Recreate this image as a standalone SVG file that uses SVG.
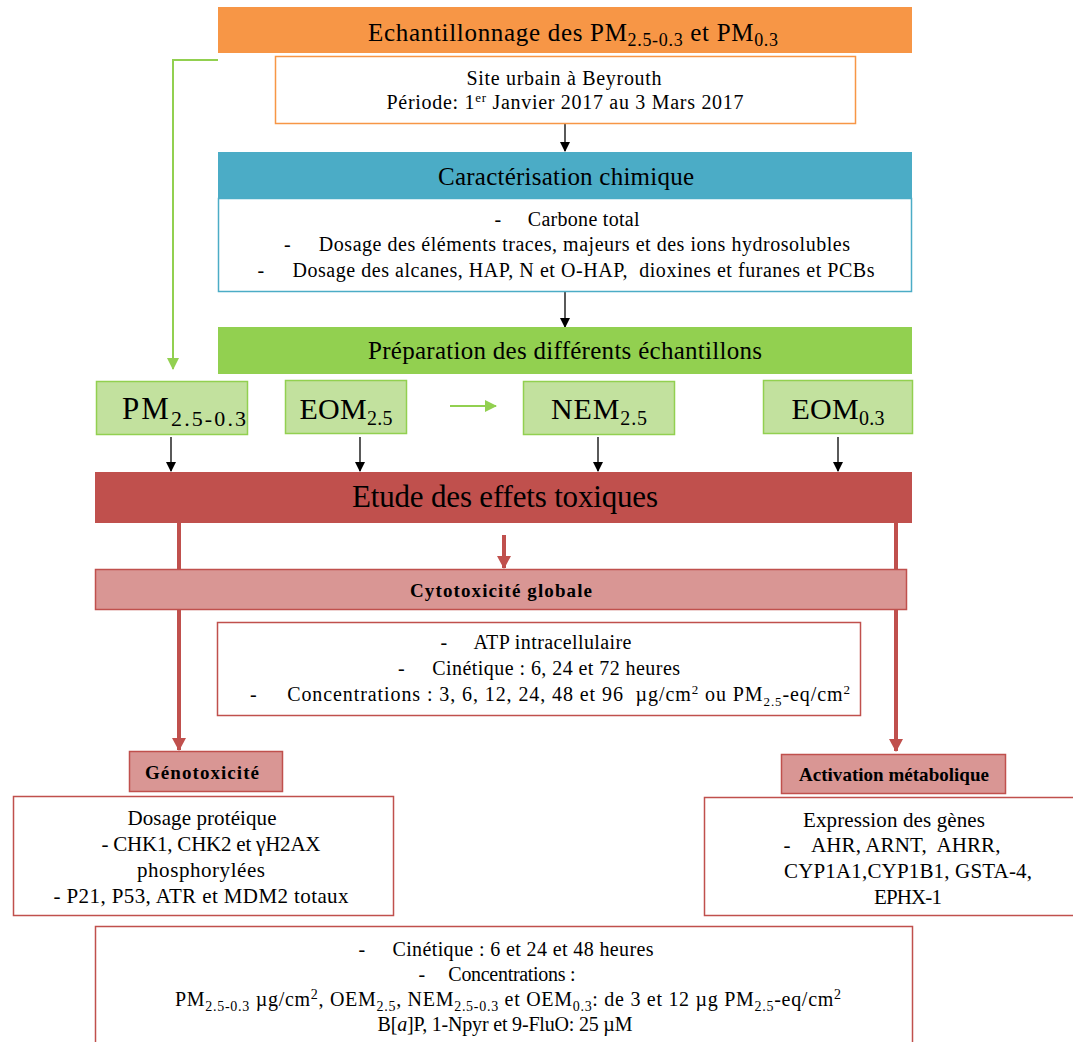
<svg xmlns="http://www.w3.org/2000/svg" width="1073" height="1042" viewBox="0 0 1073 1042">
<style>
text{font-family:"Liberation Serif","Times New Roman",serif;fill:#000;text-anchor:middle}
.h{font-size:25px}
.b{font-size:20px}
.m{font-size:21px}
.big{font-size:30px}
.bold{font-weight:bold;font-size:19px}
.lg{fill:#C2E19E;stroke:#92D050;stroke-width:1.5}
.bk{stroke:#000;stroke-width:1.3;fill:none}
.gr{stroke:#92D050;stroke-width:2;fill:none}
.rd{stroke:#C0504D;stroke-width:4;fill:none}
</style>
<defs>
<marker id="ab" markerWidth="10" markerHeight="10" refX="9" refY="5" orient="auto" markerUnits="userSpaceOnUse"><path d="M0,0 L10,5 L0,10 z" fill="#000"/></marker>
<marker id="ag" markerWidth="12" markerHeight="12" refX="11" refY="6" orient="auto" markerUnits="userSpaceOnUse"><path d="M0,0 L12,6 L0,12 z" fill="#92D050"/></marker>
<marker id="ar" markerWidth="13" markerHeight="14" refX="12" refY="7" orient="auto" markerUnits="userSpaceOnUse"><path d="M0,0 L13,7 L0,14 z" fill="#C0504D"/></marker>
</defs>

<g id="connectors">
<path class="gr" d="M218,60 H173 V369" marker-end="url(#ag)"/>
<path class="bk" d="M565,118 V151" marker-end="url(#ab)"/>
<path class="bk" d="M565,292 V327" marker-end="url(#ab)"/>
<path class="gr" d="M450,406 H496" marker-end="url(#ag)"/>
<path class="bk" d="M171,437 V471" marker-end="url(#ab)"/>
<path class="bk" d="M360,437 V471" marker-end="url(#ab)"/>
<path class="bk" d="M598,437 V471" marker-end="url(#ab)"/>
<path class="bk" d="M838,437 V471" marker-end="url(#ab)"/>
<path class="rd" d="M179,523 V750" marker-end="url(#ar)"/>
<path class="rd" d="M896,523 V751" marker-end="url(#ar)"/>
<path class="rd" d="M504,535 V568" marker-end="url(#ar)"/>
</g>

<g id="echantillonnage">
<rect x="218" y="7" width="694" height="46" fill="#F79646"/>
<text class="h" x="573" y="41" textLength="410">Echantillonnage des PM<tspan font-size="18" dy="5">2.5-0.3</tspan><tspan dy="-5"> et PM</tspan><tspan font-size="18" dy="5">0.3</tspan></text>
</g>

<g id="site">
<rect x="275.5" y="56.5" width="580" height="67" fill="#fff" stroke="#F79646" stroke-width="1.5"/>
<text class="b" x="564" y="85" textLength="195">Site urbain à Beyrouth</text>
<text class="b" x="565" y="109" textLength="357">Période: 1<tspan font-size="13" dy="-7">er</tspan><tspan dy="7"> Janvier 2017 au 3 Mars 2017</tspan></text>
</g>

<g id="caracterisation">
<rect x="218" y="152" width="694" height="46" fill="#4BACC6"/>
<text class="h" x="566" y="185" textLength="256">Caractérisation chimique</text>
<rect x="218.5" y="198.5" width="693" height="93" fill="#fff" stroke="#4BACC6" stroke-width="1.5"/>
<text class="b" x="567" y="226" textLength="145" xml:space="preserve">-     Carbone total</text>
<text class="b" x="567" y="251" textLength="566" xml:space="preserve">-     Dosage des éléments traces, majeurs et des ions hydrosolubles</text>
<text class="b" x="566" y="277" textLength="617" xml:space="preserve">-     Dosage des alcanes, HAP, N et O-HAP,  dioxines et furanes et PCBs</text>
</g>

<g id="preparation">
<rect x="218" y="327" width="694" height="47" fill="#92D050"/>
<text class="h" x="565" y="359" textLength="394">Préparation des différents échantillons</text>
</g>

<g id="pm">
<rect class="lg" x="96.5" y="381.5" width="151" height="53"/>
<text x="184" y="419" font-size="31" textLength="124">PM<tspan font-size="22" dy="7">2.5-0.3</tspan></text>
</g>
<g id="eom25">
<rect class="lg" x="285.5" y="380.5" width="121" height="53"/>
<text class="big" x="346" y="419" textLength="93">EOM<tspan font-size="20" dy="6">2.5</tspan></text>
</g>
<g id="nem25">
<rect class="lg" x="523.5" y="381.5" width="151" height="53"/>
<text class="big" x="599" y="419" textLength="96">NEM<tspan font-size="20" dy="6">2.5</tspan></text>
</g>
<g id="eom03">
<rect class="lg" x="763.5" y="380.5" width="149" height="53"/>
<text class="big" x="838" y="419" textLength="93">EOM<tspan font-size="20" dy="6">0.3</tspan></text>
</g>

<g id="etude">
<rect x="95" y="472" width="817" height="51" fill="#C0504D"/>
<text x="505" y="507" font-size="31" textLength="306">Etude des effets toxiques</text>
</g>

<g id="cytotoxicite">
<rect x="95.5" y="569.5" width="811" height="40" fill="#D99694" stroke="#C0504D" stroke-width="1.5"/>
<text class="bold" x="501" y="597" textLength="182">Cytotoxicité globale</text>
</g>

<g id="atp">
<rect x="217.5" y="622.5" width="643" height="93" fill="#fff" stroke="#C0504D" stroke-width="1.5"/>
<text class="b" x="536" y="649" textLength="191" xml:space="preserve">-     ATP intracellulaire</text>
<text class="b" x="539" y="675" textLength="282" xml:space="preserve">-     Cinétique : 6, 24 et 72 heures</text>
<text class="b" x="550" y="701" textLength="600" xml:space="preserve">-     Concentrations : 3, 6, 12, 24, 48 et 96  µg/cm<tspan font-size="13" dy="-7">2</tspan><tspan dy="7"> ou PM</tspan><tspan font-size="13" dy="5">2.5</tspan><tspan dy="-5">-eq/cm</tspan><tspan font-size="13" dy="-7">2</tspan></text>
</g>

<g id="genotoxicite">
<rect x="129.5" y="751.5" width="153" height="40" fill="#D99694" stroke="#C0504D" stroke-width="1.5"/>
<text class="bold" x="202" y="779" textLength="114">Génotoxicité</text>
</g>

<g id="dosage">
<rect x="13.5" y="796.5" width="380" height="119" fill="#fff" stroke="#C0504D" stroke-width="1.5"/>
<text class="m" x="202" y="825" textLength="149">Dosage protéique</text>
<text class="m" x="211" y="851" textLength="219">- CHK1, CHK2 et γH2AX</text>
<text class="m" x="201" y="877" textLength="128">phosphorylées</text>
<text class="m" x="201" y="903" textLength="295">- P21, P53, ATR et MDM2 totaux</text>
</g>

<g id="activation">
<rect x="781.5" y="754.5" width="224" height="39" fill="#D99694" stroke="#C0504D" stroke-width="1.5"/>
<text class="bold" x="894" y="781" textLength="190">Activation métabolique</text>
</g>

<g id="expression">
<rect x="704.5" y="797.5" width="380" height="118" fill="#fff" stroke="#C0504D" stroke-width="1.5"/>
<text class="m" x="894" y="827" textLength="182">Expression des gènes</text>
<text class="m" x="892" y="852" textLength="217" xml:space="preserve">-    AHR, ARNT,  AHRR,</text>
<text class="m" x="908" y="878" textLength="248">CYP1A1,CYP1B1, GSTA-4,</text>
<text class="m" x="908" y="904" textLength="68">EPHX-1</text>
</g>

<g id="conditions">
<rect x="95.5" y="926.5" width="817" height="130" fill="#fff" stroke="#C0504D" stroke-width="1.5"/>
<text class="b" x="506" y="956" textLength="295" xml:space="preserve">-     Cinétique : 6 et 24 et 48 heures</text>
<text class="b" x="497" y="981" textLength="157" xml:space="preserve">-     Concentrations :</text>
<text class="b" x="508" y="1006" textLength="666">PM<tspan font-size="14" dy="5">2.5-0.3</tspan><tspan dy="-5"> µg/cm</tspan><tspan font-size="14" dy="-7">2</tspan><tspan dy="7">, OEM</tspan><tspan font-size="14" dy="5">2.5</tspan><tspan dy="-5">, NEM</tspan><tspan font-size="14" dy="5">2.5-0.3</tspan><tspan dy="-5"> et OEM</tspan><tspan font-size="14" dy="5">0.3</tspan><tspan dy="-5">: de 3 et 12 µg PM</tspan><tspan font-size="14" dy="5">2.5</tspan><tspan dy="-5">-eq/cm</tspan><tspan font-size="14" dy="-7">2</tspan></text>
<text class="b" x="505" y="1031" textLength="255">B[<tspan font-style="italic">a</tspan>]P, 1-Npyr et 9-FluO: 25 µM</text>
</g>
</svg>
